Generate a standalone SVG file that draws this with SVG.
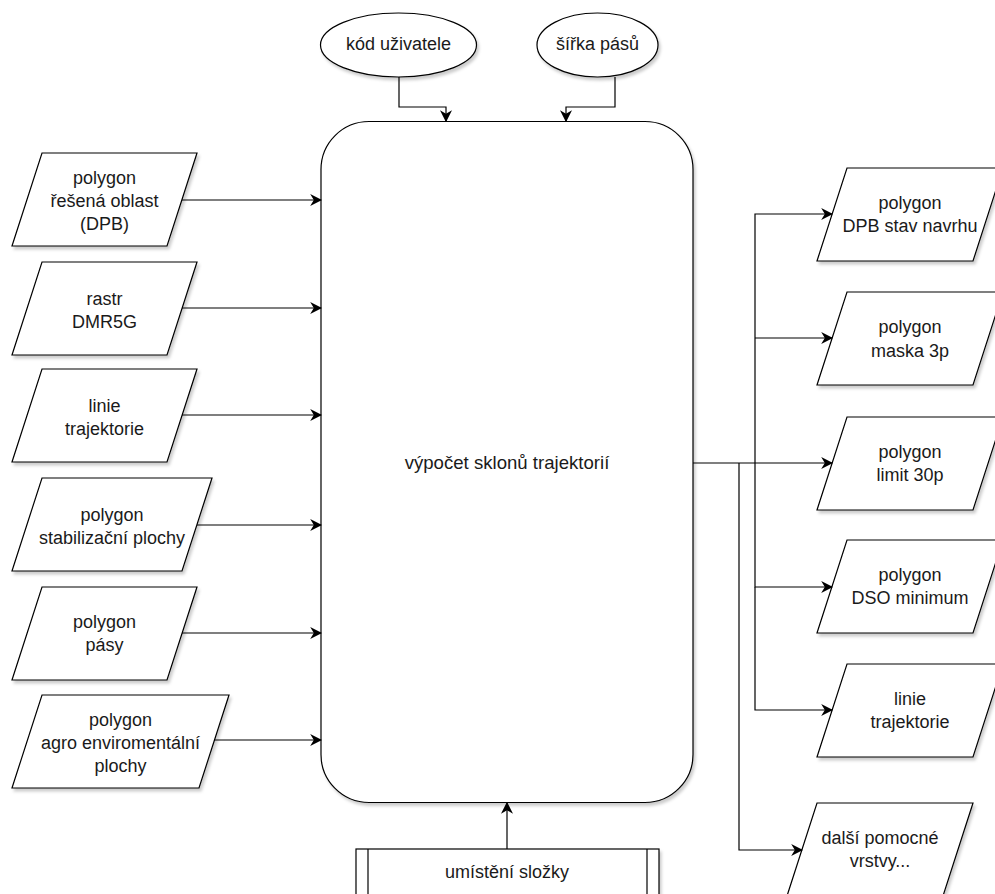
<svg xmlns="http://www.w3.org/2000/svg" width="995" height="894" viewBox="0 0 995 894">
<style>
.s{fill:#ffffff;stroke:#000000;stroke-width:1.2;filter:url(#sh)}
.t{font-family:"Liberation Sans",Arial,sans-serif;font-size:18px;fill:#1a1a1a;text-anchor:middle}
.m{font-size:18.6px}
.c{fill:none;stroke:#000000;stroke-width:1.2}
.a{marker-end:url(#arr)}
</style>
<defs>
<filter id="sh" x="-10%" y="-10%" width="130%" height="130%">
<feDropShadow dx="2" dy="3" stdDeviation="1.5" flood-color="#000000" flood-opacity="0.2"/>
</filter>
<marker id="arr" viewBox="0 0 10 10" refX="9" refY="5" markerWidth="12" markerHeight="12" markerUnits="userSpaceOnUse" orient="auto">
<path d="M0,0 L10,5 L0,10 L3,5 Z" fill="#000000"/>
</marker>
</defs>

<g id="main">
<rect class="s" x="321" y="121.5" width="372" height="681" rx="48" ry="48"/>
<text class="t m" x="507" y="469">výpočet sklonů trajektorií</text>
</g>

<g id="kod">
<ellipse class="s" cx="398.5" cy="45" rx="78" ry="32"/>
<text class="t" x="398.5" y="50">kód uživatele</text>
</g>
<g id="sirka">
<ellipse class="s" cx="597.5" cy="45" rx="60.5" ry="32"/>
<text class="t" x="597.5" y="50">šířka pásů</text>
</g>

<g id="in1">
<polygon class="s" points="42,153 197,153 167,246 12,246"/>
<text class="t" x="104.5" y="184">polygon</text>
<text class="t" x="104.5" y="207">řešená oblast</text>
<text class="t" x="104.5" y="230">(DPB)</text>
</g>
<g id="in2">
<polygon class="s" points="42,262 197,262 167,355 12,355"/>
<text class="t" x="104.5" y="305">rastr</text>
<text class="t" x="104.5" y="328">DMR5G</text>
</g>
<g id="in3">
<polygon class="s" points="42,369 197,369 167,462 12,462"/>
<text class="t" x="104.5" y="412">linie</text>
<text class="t" x="104.5" y="435">trajektorie</text>
</g>
<g id="in4">
<polygon class="s" points="42,478 212,478 182,571 12,571"/>
<text class="t" x="112" y="521">polygon</text>
<text class="t" x="112" y="544">stabilizační plochy</text>
</g>
<g id="in5">
<polygon class="s" points="42,587 197,587 167,680 12,680"/>
<text class="t" x="104.5" y="628">polygon</text>
<text class="t" x="104.5" y="651">pásy</text>
</g>
<g id="in6">
<polygon class="s" points="42,695 229,695 199,788 12,788"/>
<text class="t" x="120.5" y="726">polygon</text>
<text class="t" x="120.5" y="749">agro enviromentální</text>
<text class="t" x="120.5" y="772">plochy</text>
</g>

<g id="out1">
<polygon class="s" points="847,168 1003,168 973,261 817,261"/>
<text class="t" x="910" y="209">polygon</text>
<text class="t" x="910" y="232">DPB stav navrhu</text>
</g>
<g id="out2">
<polygon class="s" points="847,292 1003,292 973,385 817,385"/>
<text class="t" x="910" y="333">polygon</text>
<text class="t" x="910" y="357">maska 3p</text>
</g>
<g id="out3">
<polygon class="s" points="847,417 1003,417 973,510 817,510"/>
<text class="t" x="910" y="458">polygon</text>
<text class="t" x="910" y="481">limit 30p</text>
</g>
<g id="out4">
<polygon class="s" points="847,540 1003,540 973,633 817,633"/>
<text class="t" x="910" y="581">polygon</text>
<text class="t" x="910" y="604">DSO minimum</text>
</g>
<g id="out5">
<polygon class="s" points="847,664 1003,664 973,757 817,757"/>
<text class="t" x="910" y="705">linie</text>
<text class="t" x="910" y="728">trajektorie</text>
</g>
<g id="out6">
<polygon class="s" points="817,803 973,803 943,896 787,896"/>
<text class="t" x="880" y="844">další pomocné</text>
<text class="t" x="880" y="867">vrstvy...</text>
</g>

<g id="umisteni">
<rect class="s" x="356" y="849" width="303" height="70"/>
<line class="c" x1="368" y1="849" x2="368" y2="919"/>
<line class="c" x1="647" y1="849" x2="647" y2="919"/>
<text class="t" x="507" y="878">umístění složky</text>
</g>

<g id="connectors">
<path class="c a" d="M399,77 V107 H446 V121"/>
<path class="c a" d="M615,77 V107 H566 V121"/>
<path class="c a" d="M182,200 H321"/>
<path class="c a" d="M182,308 H321"/>
<path class="c a" d="M182,415 H321"/>
<path class="c a" d="M197,525 H321"/>
<path class="c a" d="M182,633 H321"/>
<path class="c a" d="M214,740 H321"/>
<path class="c a" d="M507,849 V803"/>
<path class="c a" d="M693,463 H832"/>
<path class="c a" d="M755,463 V214 H832"/>
<path class="c a" d="M755,338 H832"/>
<path class="c a" d="M755,463 V587 H832"/>
<path class="c a" d="M755,587 V710 H832"/>
<path class="c a" d="M739,463 V850 H802"/>
</g>
</svg>
